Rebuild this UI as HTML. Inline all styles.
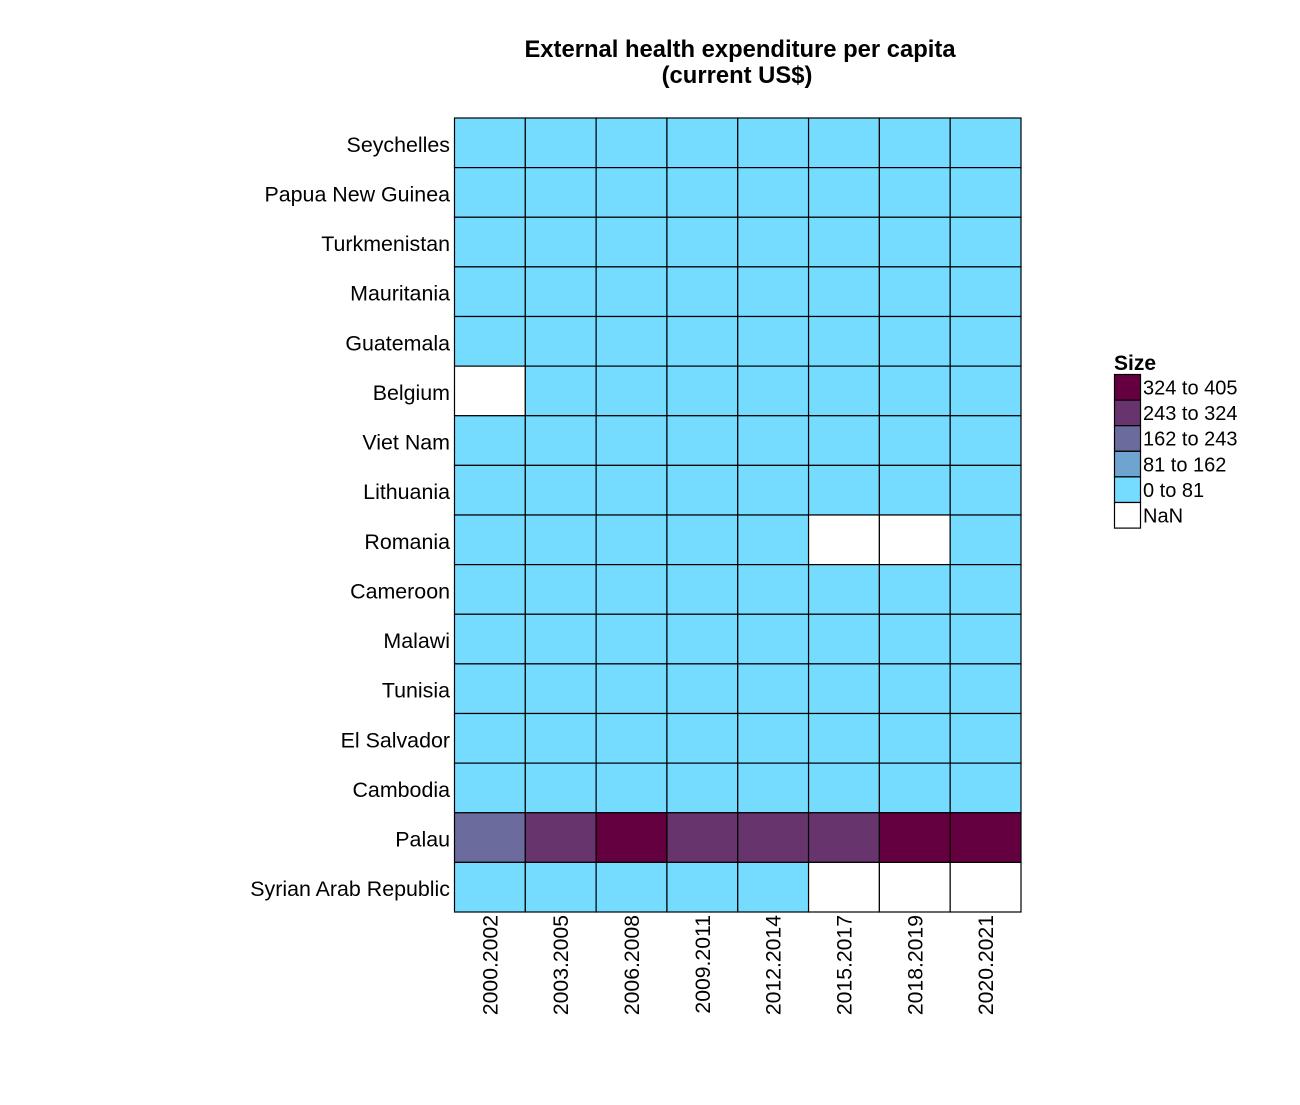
<!DOCTYPE html>
<html><head><meta charset="utf-8"><style>
body{margin:0;background:#fff;}
svg text{font-family:"Liberation Sans",Arial,sans-serif;fill:#000;}
</style></head><body>
<svg id="chart" width="1300" height="1100" xmlns="http://www.w3.org/2000/svg">
<text x="740" y="57" text-anchor="middle" font-size="23.8" font-weight="bold">External health expenditure per capita</text>
<text x="737" y="83" text-anchor="middle" font-size="23.8" font-weight="bold">(current US$)</text>
<g id="cells"></g>
<g id="ylabels"></g>
<g id="xlabels"></g>
<g id="legend"></g>
</svg>
<script>
const countries = ["Seychelles","Papua New Guinea","Turkmenistan","Mauritania","Guatemala","Belgium","Viet Nam","Lithuania","Romania","Cameroon","Malawi","Tunisia","El Salvador","Cambodia","Palau","Syrian Arab Republic"];
const periods = ["2000.2002","2003.2005","2006.2008","2009.2011","2012.2014","2015.2017","2018.2019","2020.2021"];
const values = [
[20,20,20,20,20,20,20,20],
[20,20,20,20,20,20,20,20],
[10,10,10,10,10,10,10,10],
[20,20,20,20,20,20,20,20],
[10,10,10,10,10,10,10,10],
[null,5,5,5,5,5,5,5],
[20,20,20,20,20,20,20,20],
[10,10,10,10,10,10,10,10],
[10,10,10,10,10,null,null,10],
[10,10,10,10,10,10,10,10],
[20,20,20,20,20,20,20,20],
[10,10,10,10,10,10,10,10],
[10,10,10,10,10,10,10,10],
[10,10,10,10,10,10,10,10],
[200,280,350,290,290,280,360,380],
[10,10,10,10,10,null,null,null]
];
const binLabels = ["324 to 405","243 to 324","162 to 243","81 to 162","0 to 81","NaN"];
const binMins = [324,243,162,81,0];
const binColors = ["#650040","#67346E","#6B6B9E","#6FA4D0","#75DCFF","#FFFFFF"];

const NS="http://www.w3.org/2000/svg";
const x0=454.5,x1=1021,y0=118,y1=912;
const cw=(x1-x0)/periods.length, rh=(y1-y0)/countries.length;
const xScale=i=>x0+i*cw, yScale=j=>y0+j*rh;
function colorFor(v){if(v===null)return binColors[5];for(let i=0;i<binMins.length;i++){if(v>=binMins[i])return binColors[i];}return binColors[4];}
function mk(tag,attrs,parent){const e=document.createElementNS(NS,tag);for(const k in attrs)e.setAttribute(k,attrs[k]);parent.appendChild(e);return e;}
const cells=document.getElementById('cells');
values.forEach((row,j)=>row.forEach((v,i)=>{
  const r=mk('rect',{x:xScale(i),y:yScale(j),width:cw,height:rh,fill:colorFor(v),stroke:'#000','stroke-width':1.2},cells);
  
  
}));
const yl=document.getElementById('ylabels');
countries.forEach((c,j)=>{
  const t=mk('text',{x:450,y:yScale(j)+rh/2+9,'text-anchor':'end','font-size':21.4},yl);
  t.textContent=c;
  
  
});
const xl=document.getElementById('xlabels');
periods.forEach((p,i)=>{
  const cx=xScale(i)+cw/2+7.5;
  const t=mk('text',{x:cx,y:915,'text-anchor':'end','font-size':21.2,transform:`rotate(-90 ${cx} 915)`},xl);
  t.textContent=p;
  
  
});
const lg=document.getElementById('legend');
const tt=mk('text',{x:1114,y:370,'font-size':21,'font-weight':'bold'},lg);
tt.textContent="Size";


binLabels.forEach((b,k)=>{
  const y=374.5+k*25.6;
  const r=mk('rect',{x:1114.5,y:y,width:26,height:25.6,fill:binColors[k],stroke:'#000','stroke-width':1.2},lg);
  
  
  const t=mk('text',{x:1143,y:y+20,'font-size':20},lg);
  t.textContent=b;
  
  
});
</script>
</body></html>
